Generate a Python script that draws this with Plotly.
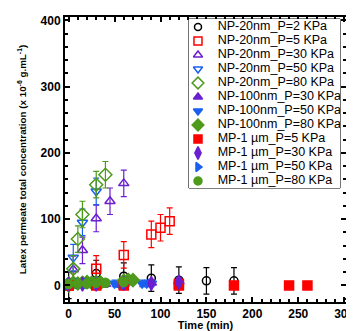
import plotly.graph_objects as go

# ---- data ----
np20_2_x = [0, 30, 60, 90, 120, 150, 180]
np20_2_y = [0, 18, 14, 11, 8, 7, 7]
np20_2_e = [20, 20, 20, 20, 20, 20, 20]

np20_5_x = [0, 30, 60, 90, 100, 110, 120]
np20_5_y = [0, 25, 46, 77, 87, 97, 2]
np20_5_e = [5, 20, 20, 20, 20, 20, 5]

np20_30_x = [0, 5, 15, 30, 45, 60]
np20_30_y = [0, 24, 53, 101, 127, 154]
np20_30_e = [5, 20, 20, 20, 20, 20]

np20_50_x = [0, 5, 15, 30]
np20_50_y = [0, 42, 95, 142]
np20_50_e = [5, 20, 20, 20]

np20_80_x = [0, 5, 10, 15, 30, 40]
np20_80_y = [0, 25, 70, 107, 152, 167]
np20_80_e = [5, 20, 20, 20, 20, 20]

np100_30_x = [0, 10, 20, 30, 40, 60, 90, 120]
np100_30_y = [2, 3, 2, 3, 2, 3, 4, 6]
np100_30_e = [5, 5, 5, 5, 5, 5, 5, 5]

np100_50_x = [0, 10, 20, 30, 50, 55, 80, 85, 90]
np100_50_y = [2, 3, 3, 3, 3, 2, 3, 3, 3]
np100_50_e = [5, 5, 5, 5, 5, 5, 5, 5, 5]

np100_80_x = [0, 5, 10, 15, 20, 25, 30, 35, 60, 65, 70]
np100_80_y = [3, 4, 3, 4, 5, 4, 5, 4, 7, 8, 8]
np100_80_e = [5, 5, 5, 5, 5, 5, 5, 5, 5, 5, 5]

mp_5_x = [0, 30, 60, 120, 180, 240, 260]
mp_5_y = [0, 0, 0, 0, 0, 0, 0]
mp_5_e = [5, 5, 5, 5, 5, 5, 5]

mp_30_x = [0, 15, 30, 60, 90, 120]
mp_30_y = [2, 2, 2, 3, 3, 5]
mp_30_e = [4, 4, 4, 4, 4, 4]

mp_50_x = [0, 10, 20, 30, 60]
mp_50_y = [2, 3, 3, 3, 3]
mp_50_e = [4, 4, 4, 4, 4]

mp_80_x = [0, 10, 20, 30, 40, 60]
mp_80_y = [2, 3, 3, 4, 4, 5]
mp_80_e = [4, 4, 4, 4, 4, 4]

x_ticks = [0, 50, 100, 150, 200, 250, 300]
y_ticks = [0, 100, 200, 300, 400]

BLACK = "#000000"
RED = "#ff0000"
PURPLE = "#6a1fd0"
BLUE = "#1a5ff0"
GREEN = "#4e9a1c"
FONT = "Liberation Sans, Arial"

series = [
    ("NP-20nm_P=2 KPa", np20_2_x, np20_2_y, np20_2_e, "circle-open", BLACK, 8),
    ("NP-20nm_P=5 KPa", np20_5_x, np20_5_y, np20_5_e, "square-open", RED, 9),
    ("NP-20nm_P=30 KPa", np20_30_x, np20_30_y, np20_30_e, "triangle-up-open", PURPLE, 9),
    ("NP-20nm_P=50 KPa", np20_50_x, np20_50_y, np20_50_e, "triangle-down-open", BLUE, 9),
    ("NP-20nm_P=80 KPa", np20_80_x, np20_80_y, np20_80_e, "diamond-open", GREEN, 10),
    ("NP-100nm_P=30 KPa", np100_30_x, np100_30_y, np100_30_e, "triangle-up", PURPLE, 9),
    ("NP-100nm_P=50 KPa", np100_50_x, np100_50_y, np100_50_e, "triangle-down", BLUE, 9),
    ("NP-100nm_P=80 KPa", np100_80_x, np100_80_y, np100_80_e, "diamond", GREEN, 10),
    ("MP-1 µm_P=5 KPa", mp_5_x, mp_5_y, mp_5_e, "square", RED, 9),
    ("MP-1 µm_P=30 KPa", mp_30_x, mp_30_y, mp_30_e, "diamond-tall", PURPLE, 10),
    ("MP-1 µm_P=50 KPa", mp_50_x, mp_50_y, mp_50_e, "triangle-right", BLUE, 9),
    ("MP-1 µm_P=80 KPa", mp_80_x, mp_80_y, mp_80_e, "circle", GREEN, 9),
]

fig = go.Figure()
for name, x, y, e, sym, col, sz in series:
    fig.add_trace(go.Scatter(
        x=x, y=y, name=name, mode="markers", showlegend=False,
        marker=dict(symbol=sym, color=col, size=sz,
                    line=dict(color=col, width=1.5)),
        error_y=dict(type="data", array=e, visible=True,
                     color=col, thickness=1.2, width=3),
    ))

# compact legend drawn on an inset axis (one row per series)
for i, (name, x, y, e, sym, col, sz) in enumerate(series):
    fig.add_trace(go.Scatter(
        x=[0.06], y=[i], mode="markers", xaxis="x2", yaxis="y2",
        showlegend=False, hoverinfo="skip",
        marker=dict(symbol=sym, color=col, size=sz - 1,
                    line=dict(color=col, width=1.5)),
    ))
    fig.add_trace(go.Scatter(
        x=[0.19], y=[i], mode="text", xaxis="x2", yaxis="y2",
        text=[name], textposition="middle right",
        textfont=dict(family=FONT, size=12.5, color="black"),
        showlegend=False, hoverinfo="skip",
    ))

tickfont = dict(family=FONT, size=12, color="black", weight="bold")

# the page body adds an 8px offset, so the figure is 8px smaller than the window
fig.update_layout(
    width=346, height=323,
    margin=dict(l=57, r=8, t=9, b=29),
    paper_bgcolor="white", plot_bgcolor="white",
    showlegend=False,
    xaxis=dict(
        domain=[0, 1], anchor="y", range=[-4, 302], tickvals=x_ticks,
        showline=True, linecolor="black", linewidth=2, mirror="allticks",
        ticks="inside", ticklen=5, tickwidth=2, tickcolor="black",
        minor=dict(ticks="inside", ticklen=3, tickwidth=1.5, dtick=10, tickcolor="black"),
        showgrid=False, zeroline=False, automargin=False, tickfont=tickfont,
        ticklabeloverflow="allow",
        title=dict(text="<b>Time (min)</b>", standoff=1,
                   font=dict(family=FONT, size=11, color="black")),
    ),
    yaxis=dict(
        domain=[0, 1], anchor="x", range=[-25, 405], tickvals=y_ticks,
        showline=True, linecolor="black", linewidth=2, mirror="allticks",
        ticks="inside", ticklen=5, tickwidth=2, tickcolor="black",
        minor=dict(ticks="inside", ticklen=3, tickwidth=1.5, dtick=20, tickcolor="black"),
        showgrid=False, zeroline=False, automargin=False, tickfont=tickfont,
        ticklabeloverflow="allow",
        title=dict(text="<b>Latex permeate total concentration (x 10<sup>-6</sup> g.mL<sup>-1</sup>)</b>",
                   standoff=12, font=dict(family=FONT, size=9.8, color="black")),
    ),
    xaxis2=dict(domain=[0.441, 0.979], anchor="y2", range=[0, 1], visible=False, fixedrange=True),
    yaxis2=dict(domain=[0.40, 0.993], anchor="x2", range=[11.5, -0.57], visible=False, fixedrange=True),
    shapes=[dict(type="rect", xref="x2 domain", yref="y2 domain", x0=0, x1=1, y0=0, y1=1,
                 line=dict(color="black", width=1), fillcolor="rgba(0,0,0,0)", layer="below")],
)

fig.write_html("out.html")
